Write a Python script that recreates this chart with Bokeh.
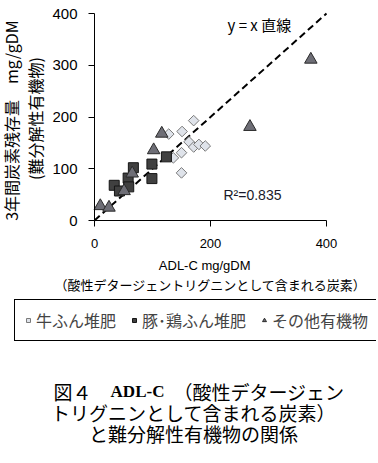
import math
from bokeh.plotting import figure
from bokeh.models import Label, FixedTicker, Range1d
from bokeh.embed import file_html
from bokeh.resources import INLINE

# ---- data ----
cow_x = [171, 128, 151, 163, 171, 180, 191, 150, 136, 150]
cow_y = [193, 167, 172, 152, 142, 147, 144, 131, 121, 92]
pig_x = [34, 43, 58, 59, 67, 99, 99, 124]
pig_y = [68, 57, 82, 65, 102, 109, 81, 123]
oth_x = [10, 25, 51, 65, 102, 116, 268, 373]
oth_y = [28, 25, 57, 91, 136, 168, 181, 311]
line_x = [0, 400]
line_y = [0, 400]
series_names = ["牛ふん堆肥", "豚･鶏ふん堆肥", "その他有機物"]
x_ticks = [0, 200, 400]
y_ticks = [0, 100, 200, 300, 400]
r2_text = "R²=0.835"
line_text = "y = x  直線"
x_title = ["ADL-C  mg/gDM", "（酸性デタージェントリグニンとして含まれる炭素）"]
y_title = ["3年間炭素残存量　mg/gDM", "(難分解性有機物)"]
caption = ["図４　", "ADL-C", "（酸性デタージェン", "トリグニンとして含まれる炭素）", "と難分解性有機物の関係"]

JP = "Noto Sans CJK JP"
W, H = 376, 460
# page geometry of the data area
PX0, PX1 = 94, 326     # x = 0 .. 400
PY0, PY1 = 220, 13     # y = 0 .. 400
SX = (PX1 - PX0) / 400.0
SY = (PY0 - PY1) / 400.0

p = figure(width=W, height=H,
           x_range=Range1d(-PX0 / SX, (W - PX0) / SX),
           y_range=Range1d((PY0 - H) / SY, PY0 / SY),
           output_backend="svg", toolbar_location=None,
           min_border_left=0, min_border_right=0, min_border_top=0, min_border_bottom=0)
p.title.visible = False
p.outline_line_color = None
p.grid.visible = False

def dx(px):
    return (px - PX0) / SX

def dy(py):
    return (PY0 - py) / SY

for ax in (p.xaxis[0], p.yaxis[0]):
    ax.fixed_location = 0
    ax.bounds = (0, 400)
    ax.axis_line_color = "black"
    ax.major_tick_line_color = "black"
    ax.minor_tick_line_color = None
    ax.major_tick_in = 0
    ax.major_tick_out = 6
    ax.major_label_text_font = "Liberation Sans"
    ax.major_label_text_color = "black"
p.xaxis.ticker = FixedTicker(ticks=x_ticks)
p.yaxis.ticker = FixedTicker(ticks=y_ticks)
p.xaxis.major_label_text_font_size = "13px"
p.yaxis.major_label_text_font_size = "15px"
p.xaxis.major_label_standoff = 12
p.yaxis.major_label_standoff = 11

# y = x line
p.line(line_x, line_y, line_color="black", line_width=2, line_dash="7 4")

cow_style = dict(marker="square", angle=math.pi / 4, size=7.5, fill_color="#dfe3ea",
                 line_color="#7a7a7a", line_width=1)
pig_style = dict(marker="square", size=10, fill_color="#404040", line_color="#151515", line_width=1)
oth_style = dict(marker="triangle", size=12.5, fill_color="#6e6e76", line_color="#2a2a2a", line_width=1)

p.scatter(cow_x, cow_y, legend_label=series_names[0], **cow_style)
p.scatter(pig_x, pig_y, legend_label=series_names[1], **pig_style)
p.scatter(oth_x, oth_y, legend_label=series_names[2], **oth_style)

def lab(text, px, py, size, align="center", font=JP, style="normal", angle=0.0, color="black"):
    p.add_layout(Label(x=dx(px), y=dy(py), text=text, text_align=align, text_baseline="middle",
                       text_font=font, text_font_size=size, text_font_style=style,
                       angle=angle, text_color=color))

# in-plot annotations
lab(line_text, 227, 24, "15px", align="left")
lab(r2_text, 223, 194, "14px", align="left", font="Liberation Sans", color="#1a1a2a")

# axis titles
lab(x_title[0], 206, 265, "13px", font="Liberation Sans")
lab(x_title[1], 210, 284, "13px")
lab(y_title[0], 10, 120, "16px", angle=math.pi / 2)
lab(y_title[1], 34, 118, "16px", angle=math.pi / 2)

# caption
lab(caption[0], 53, 391, "19px", align="left")
lab(caption[1], 137, 391, "17px", font="Liberation Serif", style="bold")
lab(caption[2], 344, 391, "19px", align="right")
lab(caption[3], 193, 412, "19px")
lab(caption[4], 193, 433, "19px")

# legend
lg = p.legend[0]
lg.orientation = "horizontal"
lg.location = (14, H - 341)
lg.border_line_color = "black"
lg.border_line_width = 1
lg.border_line_alpha = 1
lg.background_fill_color = "white"
lg.background_fill_alpha = 1
lg.label_text_font = JP
lg.label_text_font_size = "16px"
lg.label_height = 16
lg.glyph_width = 10
lg.glyph_height = 16
lg.label_standoff = 3
lg.spacing = 13
lg.padding = 8
lg.margin = 0

open("out.html", "w").write(file_html(p, INLINE))
